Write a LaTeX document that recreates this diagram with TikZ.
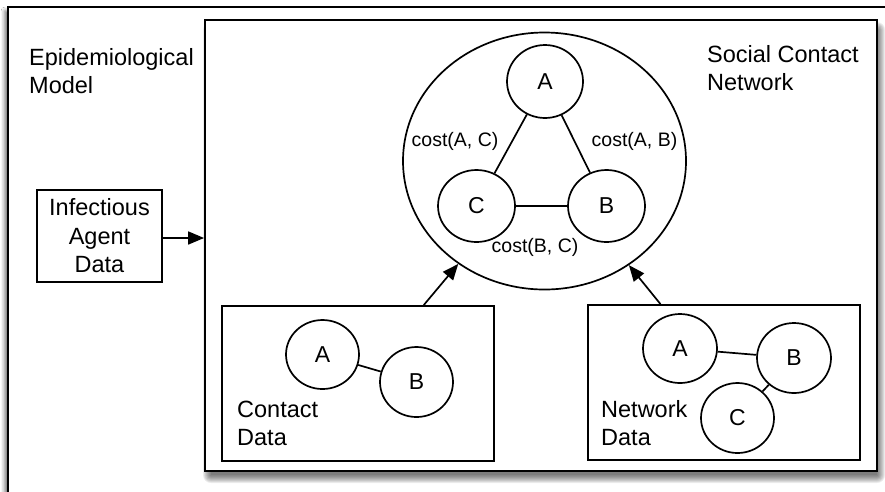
\documentclass[tikz,border=0pt]{standalone}
\usepackage{fontspec}
\setmainfont{Liberation Sans}
\usetikzlibrary{shapes.geometric,arrows.meta,shadows.blur,calc}
\begin{document}
\begin{tikzpicture}[x=1pt,y=-1pt,
  frame/.style={draw, line width=1.8pt, fill=white, rectangle, inner sep=0pt},
  vertex/.style={draw, line width=1.7pt, ellipse, inner sep=0pt,
                 font=\fontsize{23}{27}\selectfont},
  link/.style={line width=1.7pt},
  feed/.style={line width=1.7pt, -{Triangle[length=16pt,width=13pt]}},
  caption/.style={font=\fontsize{23.5}{28.5}\selectfont, inner sep=0pt, align=left},
  cost/.style={font=\fontsize{19.5}{23}\selectfont, inner sep=0pt},
  softshade/.style={fill=black, opacity=0.075}]
\useasboundingbox (0,0) rectangle (885,491);
\fill[white] (0,0) rectangle (885,491);

% outer frame: the epidemiological model
\node[frame, minimum width=892pt, minimum height=503pt,
      blur shadow={shadow xshift=-3pt, shadow yshift=-4pt,
                   shadow blur radius=4pt, shadow opacity=60}]
  (model) at (454,258.5) {};
% multi-line captions are anchored on the baseline of their last line
\node[caption, anchor=base west] (modeltxt) at (29,93.5) {Epidemiological\\Model};

% soft drop shadow under the inner frame, built from stacked translucent layers
\foreach \k in {0,1,...,8}{
  \fill[softshade, rounded corners=\k pt] (211-\k,30-\k) rectangle (877+\k,475+\k);
}

% inner frame: the social contact network
\node[frame, minimum width=672pt, minimum height=451pt] (network) at (541,245.5) {};
\node[caption, anchor=base west] (networktxt) at (707,90.5) {Social Contact\\Network};

% infectious agent input
\node[frame, minimum width=125pt, minimum height=92pt, align=center,
      font=\fontsize{23.5}{28.5}\selectfont]
  (agent) at (99.5,236) {Infectious\\Agent\\Data};
\draw[feed] (agent.east |- 0,238) -- (network.west |- 0,238);

% the social contact network graph
\node[draw, line width=1.7pt, ellipse, minimum width=283pt, minimum height=257pt]
  (scn) at (544.5,161) {};
\node[vertex, minimum width=76pt, minimum height=73pt] (sA) at (545,81.5) {A};
\node[vertex, minimum width=77pt, minimum height=72pt] (sC) at (476.5,206) {C};
\node[vertex, minimum width=77pt, minimum height=72pt] (sB) at (606.5,206) {B};
\draw[link] (sA) -- (sC);
\draw[link] (sA) -- (sB);
\draw[link] (sC) -- (sB);
\node[cost] (costAC) at (455,141) {cost(A, C)};
\node[cost] (costAB) at (634.5,141) {cost(A, B)};
\node[cost] (costBC) at (535,247) {cost(B, C)};

% contact data
\node[frame, minimum width=272pt, minimum height=155pt] (contact) at (358,383.5) {};
\node[vertex, minimum width=73pt, minimum height=69pt] (cA) at (322.5,354.5) {A};
\node[vertex, minimum width=73pt, minimum height=70pt] (cB) at (416.5,382) {B};
\draw[link] (cA) -- (cB);
\node[caption, anchor=base west] (contacttxt) at (237,445.5) {Contact\\Data};

% network data
\node[frame, minimum width=272pt, minimum height=155pt] (netdata) at (724,382.5) {};
\node[vertex, minimum width=74pt, minimum height=69pt] (nA) at (680,348.5) {A};
\node[vertex, minimum width=74pt, minimum height=70pt] (nB) at (794,358) {B};
\node[vertex, minimum width=73pt, minimum height=70pt] (nC) at (737.5,418) {C};
\draw[link] (nA) -- (nB);
\draw[link] (nB) -- (nC);
\node[caption, anchor=base west] (netdatatxt) at (601,445.5) {Network\\Data};

% data sources feeding the network
\coordinate (cfeed) at ($(contact.north west)!0.74!(contact.north east)$);
\coordinate (nfeed) at ($(netdata.north west)!0.268!(netdata.north east)$);
\draw[feed] (cfeed) -- (scn);
\draw[feed] (nfeed) -- (scn);
\end{tikzpicture}
\end{document}
